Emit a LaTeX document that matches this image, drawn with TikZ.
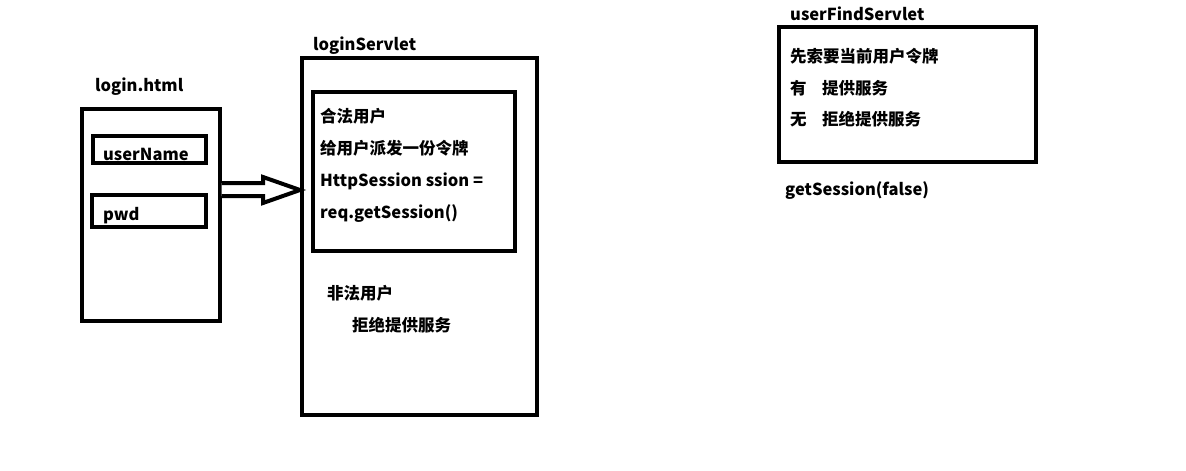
\documentclass[tikz,border=0pt]{standalone}
\usepackage{fontspec}
\setmainfont{Noto Sans CJK SC}
\begin{document}
\begin{tikzpicture}[x=1pt,y=-1pt,
  box/.style={draw=black,line width=4pt,fill=none,inner sep=0pt,rectangle},
  lbl/.style={anchor=base west,inner sep=0pt,font=\fontsize{16.5}{19}\selectfont\bfseries},
  hollow/.style={draw=black,fill=white,line width=4pt,line join=miter}]
\useasboundingbox[fill=white] (0,0) rectangle (1186,471);

% login form
\node[box,minimum width=137.5pt,minimum height=211.5pt] (login) at (150.75,214.75) {};
\node[box,minimum width=113pt,minimum height=27pt] (user) at (149.5,149.5) {};
\node[box,minimum width=114pt,minimum height=32pt] (pwd) at (149,211) {};
\node[lbl] (logint) at (95,91) {login.html};
\node[lbl] (usert) at (103,160) {userName};
\node[lbl] (pwdt) at (103,220) {pwd};

% login servlet
\node[box,minimum width=235pt,minimum height=357pt] (servlet) at (419.5,236.5) {};
\node[box,minimum width=202pt,minimum height=159pt] (valid) at (414,171.5) {};
\node[lbl] (servt) at (313,50) {loginServlet};
\node[lbl] (v1) at (320,122) {合法用户};
\node[lbl] (v2) at (320,154) {给用户派发一份令牌};
\node[lbl] (v3) at (320,186) {HttpSession ssion =};
\node[lbl] (v4) at (320,218) {req.getSession()};
\node[lbl] (i1) at (327,299) {非法用户};
\node[lbl] (i2) at (352,331) {拒绝提供服务};

% hollow arrow from the form to the servlet
\coordinate (s1) at (0,183);
\coordinate (s2) at (0,196);
\coordinate (tip) at (299,190);
\draw[hollow] (login.east |- s1) -- (263,183) -- (263,177) -- (servlet.west |- tip)
  -- (263,203) -- (263,196) -- (login.east |- s2);

% user find servlet
\node[box,minimum width=257pt,minimum height=135pt] (find) at (907.5,94.5) {};
\node[lbl] (findt) at (790,20) {userFindServlet};
\node[lbl] (f1) at (790,62) {先索要当前用户令牌};
\node[lbl] (f2a) at (790,94) {有};
\node[lbl] (f2b) at (822,94) {提供服务};
\node[lbl] (f3a) at (790,125) {无};
\node[lbl] (f3b) at (822,125) {拒绝提供服务};
\node[lbl] (gs) at (785,195) {getSession(false)};
\end{tikzpicture}
\end{document}
